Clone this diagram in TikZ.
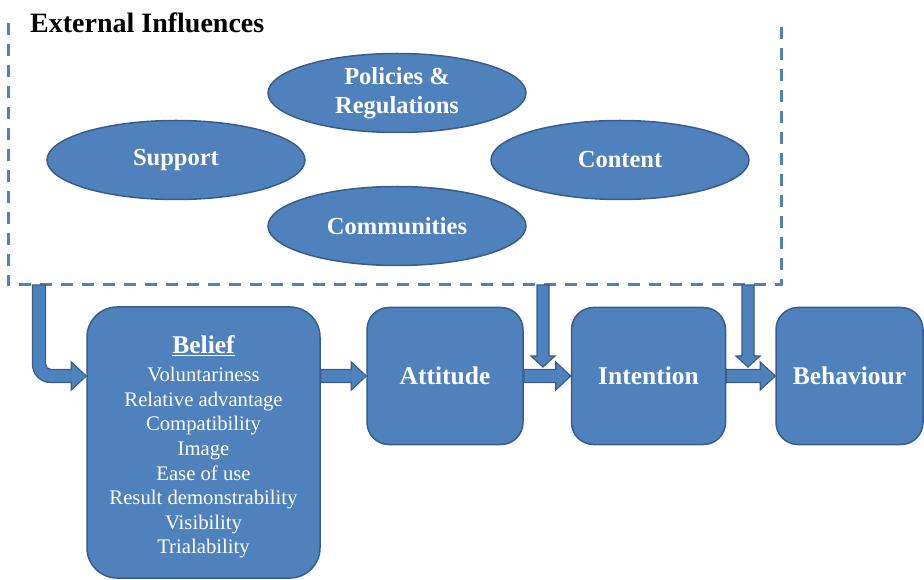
\documentclass[tikz,border=0pt]{standalone}
\usepackage{fontspec}
\setmainfont{Liberation Serif}
\usetikzlibrary{shapes.geometric,calc}
\definecolor{blockfill}{HTML}{4F81BD}
\definecolor{blockline}{HTML}{385D8A}
\tikzset{
  oval/.style={ellipse, draw=blockline, fill=blockfill, line width=1.5pt,
    minimum width=258pt, minimum height=79pt, inner sep=0pt, text=white,
    align=center, font=\fontsize{24.5}{29.4}\selectfont\bfseries},
  box/.style={rectangle, rounded corners=22pt, draw=blockline, fill=blockfill,
    line width=1.5pt, inner sep=0pt, text=white, align=center,
    font=\fontsize{25.5}{30}\selectfont\bfseries},
  fat/.style={draw=blockline, fill=blockfill, line width=1.2pt, line join=miter},
  hfat/.style={to path={($(\tikztostart)+(0,6.5)$) -- ($(\tikztotarget)+(-15,6.5)$)
    -- ($(\tikztotarget)+(-15,14)$) -- (\tikztotarget) -- ($(\tikztotarget)+(-15,-14)$)
    -- ($(\tikztotarget)+(-15,-6.5)$) -- ($(\tikztostart)+(0,-6.5)$) -- cycle}},
  vfat/.style={to path={($(\tikztostart)+(-6,0)$) -- ($(\tikztotarget)+(-6,11)$)
    -- ($(\tikztotarget)+(-12,11)$) -- (\tikztotarget) -- ($(\tikztotarget)+(12,11)$)
    -- ($(\tikztotarget)+(6,11)$) -- ($(\tikztostart)+(6,0)$) -- cycle}},
}
\begin{document}
\begin{tikzpicture}[x=1pt,y=1pt]
\useasboundingbox (0,0) rectangle (924,579);

\node[anchor=base west, inner sep=0pt, font=\fontsize{28}{32}\selectfont\bfseries] (t1) at (30,546.5) {External Influences};

\coordinate (c1) at (8,556);
\coordinate (c2) at (8,294);
\coordinate (c3) at (781,294);
\coordinate (c4) at (781,556);
\draw[blockfill, line width=3pt, dash pattern=on 12pt off 9pt] (c1) -- (c2) -- (c3) -- (c4);

\node[oval] (e1) at (397,486) {Policies \&\\Regulations};
\node[oval] (e2) at (176,419) {Support};
\node[oval] (e3) at (620,419) {Content};
\node[oval] (e4) at (397,353) {Communities};

\node[box, rounded corners=30pt, minimum width=233pt, minimum height=271pt] (b1) at (203.5,136.5) {};
\node[text=white, align=center, inner sep=0pt, font=\fontsize{20.7}{24.6}\selectfont] (b1t) at ($(b1.center)+(0,-4.5)$)
  {{\fontsize{25.5}{30}\selectfont\bfseries\underline{Belief}}\\[3.4pt]
   Voluntariness\\Relative advantage\\Compatibility\\Image\\Ease of use\\
   Result demonstrability\\Visibility\\Trialability};
\node[box, minimum width=156pt, minimum height=137pt] (b2) at (445,203) {Attitude};
\node[box, minimum width=154pt, minimum height=137pt] (b3) at (648.5,203) {Intention};
\node[box, minimum width=147pt, minimum height=137pt] (b4) at (849.5,203) {Behaviour};

\coordinate (d1) at (39,294);
\coordinate (d2) at (b1.west |- b2.west);
\coordinate (d3) at (d1 |- d2);
\coordinate (d4) at (b1.east |- b2.east);
\coordinate (d5) at (543,294);
\coordinate (d6) at (543,212);
\coordinate (d7) at (748,294);
\coordinate (d8) at (748,212);

\draw[fat] ($(d1)+(-6.5,0)$) -- ($(d3)+(-6.5,11.5)$) arc[start angle=180, end angle=270, radius=18pt]
  -- ($(d2)+(-15,-6.5)$) -- ($(d2)+(-15,-14)$) -- (d2) -- ($(d2)+(-15,14)$) -- ($(d2)+(-15,6.5)$)
  -- ($(d3)+(12,6.5)$) arc[start angle=270, end angle=180, radius=5.5pt] -- ($(d1)+(6.5,0)$) -- cycle;
\draw[fat] (d4) to[hfat] (b2.west);
\draw[fat] (b2.east) to[hfat] (b3.west);
\draw[fat] (b3.east) to[hfat] (b4.west);
\draw[fat] (d5) to[vfat] (d6);
\draw[fat] (d7) to[vfat] (d8);
\end{tikzpicture}
\end{document}
